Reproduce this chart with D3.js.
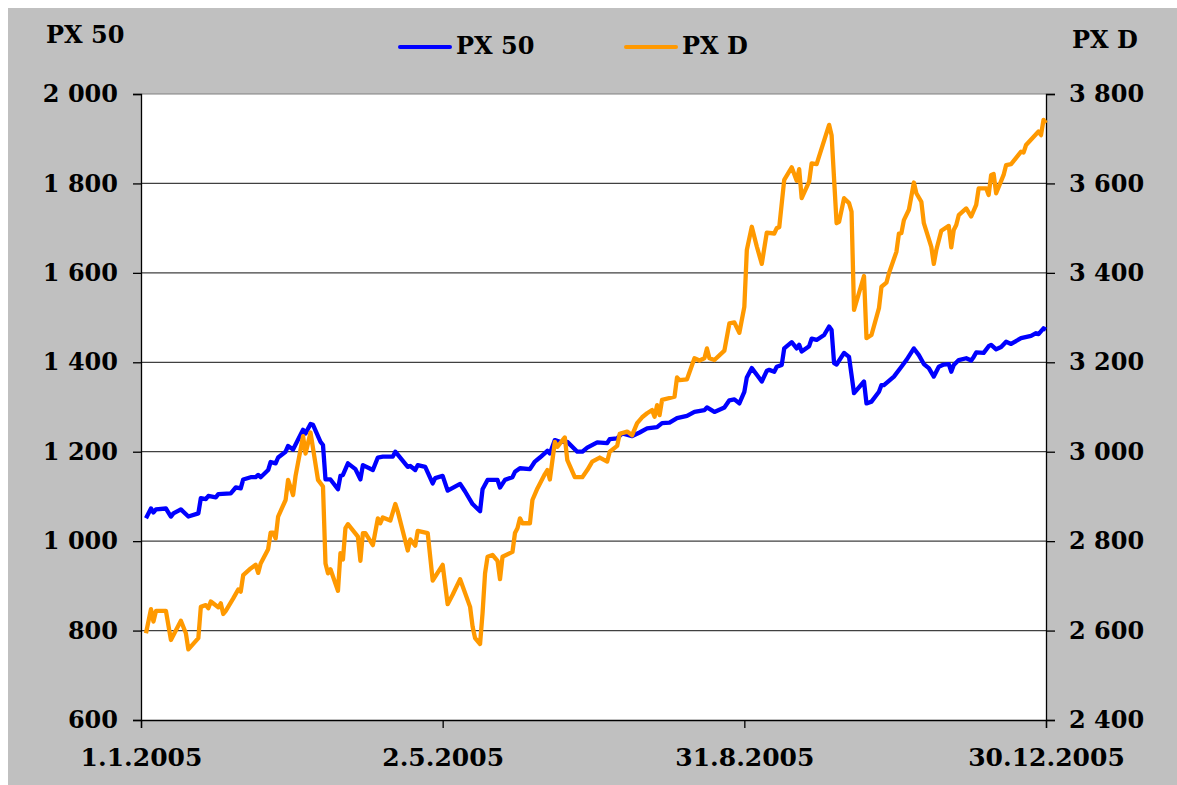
<!DOCTYPE html>
<html>
<head>
<meta charset="utf-8">
<script src="https://cdn.jsdelivr.net/npm/d3@7"></script>
<style>
  body { margin: 0; background: #fff; }
  text { font-family: "DejaVu Serif", serif; font-weight: bold; fill: #000; }
</style>
</head>
<body>
<svg id="chart"></svg>
<script>
'use strict'

// days counted from 1.1.2005
const startDate = new Date(2005, 0, 1)
const endDate = new Date(2005, 11, 30)
const tickDates = [new Date(2005, 0, 1), new Date(2005, 4, 2), new Date(2005, 7, 31), new Date(2005, 11, 30)]
const leftTicks = [600, 800, 1000, 1200, 1400, 1600, 1800, 2000]
const rightTicks = [2400, 2600, 2800, 3000, 3200, 3400, 3600, 3800]
const seriesNames = ['PX 50', 'PX D']

const px50Days = [2, 4, 5, 6, 10, 12, 13, 16, 19, 23, 24, 26, 27, 30, 31, 36, 38, 40, 41, 44, 46, 47, 48, 51, 52, 54, 55, 58, 59, 61,
  65, 66, 68, 69, 72, 73, 74, 76, 79, 80, 81, 83, 86, 88, 89, 93, 95, 97, 101, 102, 107, 108, 110, 111, 114, 117, 118, 121, 123, 128,
  130, 133, 136, 137, 139, 143, 144, 146, 149, 150, 152, 156, 158, 160, 163, 164, 166, 168, 171, 175, 177, 179, 183, 187, 188, 191, 193, 197, 200, 203,
  207, 209, 212, 215, 219, 222, 226, 227, 230, 234, 236, 238, 240, 242, 243, 245, 247, 249, 251, 252, 254, 255, 257, 258, 261, 263, 264, 265, 268, 269,
  271, 274, 276, 277, 278, 279, 282, 284, 286, 290, 291, 293, 296, 297, 298, 302, 305, 307, 310, 312, 314, 316, 318, 320, 322, 324, 325, 326, 328, 331,
  333, 334, 335, 338, 340, 341, 343, 345, 347, 349, 353, 357, 359, 360, 362, 363]
const px50Values = [1051, 1073, 1064, 1071, 1073, 1055, 1062, 1071, 1055, 1062, 1096, 1094, 1101, 1098, 1105, 1107, 1120, 1118, 1138, 1143, 1143, 1148, 1143, 1159, 1177, 1174, 1187, 1200, 1213, 1205,
  1249, 1241, 1262, 1260, 1222, 1215, 1138, 1138, 1116, 1146, 1148, 1174, 1161, 1138, 1170, 1159, 1187, 1189, 1189, 1200, 1166, 1168, 1159, 1170, 1166, 1129, 1141, 1146, 1113, 1128,
  1111, 1083, 1067, 1116, 1137, 1137, 1120, 1137, 1143, 1155, 1163, 1161, 1178, 1187, 1202, 1196, 1226, 1222, 1222, 1200, 1200, 1209, 1221, 1219, 1228, 1230, 1241, 1235, 1243, 1252,
  1255, 1264, 1265, 1275, 1280, 1289, 1293, 1299, 1289, 1299, 1315, 1317, 1308, 1334, 1366, 1387, 1372, 1357, 1381, 1383, 1379, 1390, 1394, 1431, 1445, 1431, 1439, 1424, 1436, 1453,
  1450, 1461, 1480, 1472, 1398, 1395, 1421, 1412, 1331, 1357, 1308, 1312, 1334, 1349, 1349, 1368, 1390, 1405, 1431, 1416, 1396, 1387, 1368, 1390, 1395, 1396, 1379, 1394, 1405, 1409,
  1404, 1412, 1422, 1421, 1436, 1439, 1429, 1434, 1446, 1441, 1454, 1459, 1465, 1463, 1476, 1473]

const pxdDays = [2, 4, 5, 6, 10, 12, 16, 18, 19, 23, 24, 26, 27, 28, 31, 32, 33, 34, 37, 39, 40, 41, 44, 46, 47, 48, 51, 52, 53, 54,
  55, 58, 59, 61, 62, 65, 66, 68, 71, 73, 74, 75, 76, 79, 80, 81, 82, 83, 87, 88, 89, 90, 93, 95, 96, 97, 100, 102, 103, 107,
  108, 110, 111, 115, 117, 121, 123, 125, 128, 132, 133, 134, 136, 137, 138, 139, 141, 143, 144, 145, 149, 150, 151, 152, 153, 156, 157, 159, 162, 163,
  164, 166, 167, 170, 171, 174, 177, 179, 181, 184, 187, 188, 191, 192, 195, 197, 199, 201, 203, 205, 206, 207, 208, 209, 214, 215, 216, 219, 222, 224,
  226, 227, 228, 230, 234, 236, 238, 240, 242, 243, 245, 247, 249, 251, 254, 255, 256, 258, 261, 263, 264, 265, 268, 269, 271, 276, 277, 279, 280, 282,
  284, 285, 286, 290, 291, 293, 296, 297, 299, 300, 303, 304, 305, 306, 308, 310, 311, 313, 314, 317, 318, 319, 321, 324, 325, 326, 327, 328, 331, 333,
  335, 336, 339, 340, 341, 342, 343, 346, 347, 349, 353, 354, 355, 360, 361, 362, 363]
const pxdValues = [2594, 2648, 2620, 2644, 2644, 2579, 2622, 2594, 2558, 2583, 2653, 2657, 2650, 2665, 2652, 2661, 2637, 2644, 2672, 2692, 2687, 2724, 2739, 2747, 2729, 2750, 2782, 2819, 2819, 2806,
  2855, 2892, 2937, 2903, 2946, 3035, 2996, 3043, 2937, 2922, 2750, 2728, 2737, 2689, 2773, 2759, 2829, 2838, 2810, 2756, 2818, 2818, 2791, 2851, 2840, 2853, 2846, 2883, 2866, 2779,
  2804, 2790, 2823, 2818, 2712, 2747, 2659, 2680, 2715, 2653, 2609, 2583, 2570, 2639, 2728, 2765, 2769, 2756, 2715, 2765, 2776, 2818, 2829, 2851, 2840, 2840, 2892, 2918, 2950, 2959,
  2938, 3022, 3011, 3032, 2981, 2943, 2943, 2959, 2978, 2987, 2978, 3000, 3013, 3040, 3045, 3037, 3064, 3077, 3086, 3093, 3078, 3104, 3082, 3116, 3123, 3166, 3160, 3162, 3209, 3204,
  3209, 3231, 3209, 3205, 3226, 3287, 3289, 3266, 3324, 3451, 3503, 3459, 3420, 3490, 3488, 3500, 3502, 3608, 3636, 3606, 3632, 3567, 3604, 3645, 3643, 3731, 3708, 3511, 3514, 3567,
  3556, 3537, 3317, 3393, 3254, 3261, 3321, 3369, 3378, 3399, 3447, 3488, 3489, 3518, 3541, 3602, 3578, 3559, 3511, 3458, 3420, 3451, 3494, 3505, 3457, 3496, 3507, 3529, 3544, 3526,
  3552, 3589, 3589, 3574, 3619, 3621, 3578, 3619, 3641, 3643, 3671, 3669, 3686, 3716, 3708, 3742, 3735]

const width = 1177
const height = 785
const plot = { left: 141, right: 1046, top: 94, bottom: 720 }

const svg = d3.select('#chart')
  .attr('width', width)
  .attr('height', height)

// grey panel
svg.append('rect')
  .attr('x', 8).attr('y', 8)
  .attr('width', width - 8).attr('height', height - 8)
  .attr('fill', '#c0c0c0')

svg.append('rect')
  .attr('x', plot.left).attr('y', plot.top)
  .attr('width', plot.right - plot.left).attr('height', plot.bottom - plot.top)
  .attr('fill', '#fff')

const x = d3.scaleTime().domain([startDate, endDate]).range([plot.left, plot.right])
const yLeft = d3.scaleLinear().domain([600, 2000]).range([plot.bottom, plot.top])
const yRight = d3.scaleLinear().domain([2400, 3800]).range([plot.bottom, plot.top])

const locale = d3.formatLocale({ decimal: ',', thousands: '\u00a0', grouping: [3], currency: ['', ''] })
const numFormat = locale.format(',')
const dateFormat = d3.timeFormat('%-d.%-m.%Y')

// grid lines
svg.append('g')
  .selectAll('line')
  .data(leftTicks.slice(1))
  .enter().append('line')
  .attr('x1', plot.left).attr('x2', plot.right)
  .attr('y1', d => yLeft(d)).attr('y2', d => yLeft(d))
  .attr('stroke', d => d === 2000 ? '#808080' : '#404040')
  .attr('stroke-width', 1.2)

const axisStyle = g => {
  g.select('.domain').attr('stroke', '#000').attr('stroke-width', 1.3)
  g.selectAll('.tick line').attr('stroke', '#000').attr('stroke-width', 1.3)
  g.selectAll('.tick text').attr('font-size', 24).attr('fill', '#000')
    .attr('font-family', '"DejaVu Serif", serif').attr('font-weight', 'bold')
}

svg.append('g')
  .attr('transform', `translate(${plot.left},0)`)
  .call(d3.axisLeft(yLeft).tickValues(leftTicks).tickFormat(numFormat).tickSizeOuter(0).tickSize(8).tickPadding(15))
  .call(axisStyle)

svg.append('g')
  .attr('transform', `translate(${plot.right},0)`)
  .call(d3.axisRight(yRight).tickValues(rightTicks).tickFormat(numFormat).tickSizeOuter(0).tickSize(9).tickPadding(14))
  .call(axisStyle)

svg.append('g')
  .attr('transform', `translate(0,${plot.bottom})`)
  .call(d3.axisBottom(x).tickValues(tickDates).tickFormat(dateFormat).tickSizeOuter(0).tickSize(8).tickPadding(20))
  .call(axisStyle)
  .call(g => g.selectAll('.tick text').attr('font-size', 25))

// series lines
const line = yScale => d3.line()
  .x(d => x(d3.timeDay.offset(startDate, d[0])))
  .y(d => yScale(d[1]))

svg.append('path')
  .datum(d3.zip(px50Days, px50Values))
  .attr('d', line(yLeft))
  .attr('fill', 'none')
  .attr('stroke', '#0000ff')
  .attr('stroke-width', 4.3)
  .attr('stroke-linejoin', 'round')

svg.append('path')
  .datum(d3.zip(pxdDays, pxdValues))
  .attr('d', line(yRight))
  .attr('fill', 'none')
  .attr('stroke', '#ff9900')
  .attr('stroke-width', 4.3)
  .attr('stroke-linejoin', 'round')

// axis titles
svg.append('text').attr('x', 46).attr('y', 43).attr('font-size', 24).text(seriesNames[0])
svg.append('text').attr('x', 1072).attr('y', 48).attr('font-size', 24).text(seriesNames[1])

// legend
const legendX = [400, 626]
const legendColors = ['#0000ff', '#ff9900']
seriesNames.forEach((name, i) => {
  svg.append('line')
    .attr('x1', legendX[i]).attr('x2', legendX[i] + 50)
    .attr('y1', 47).attr('y2', 47)
    .attr('stroke', legendColors[i]).attr('stroke-width', 4)
    .attr('stroke-linecap', 'round')
  svg.append('text')
    .attr('x', legendX[i] + 56).attr('y', 54)
    .attr('font-size', 24)
    .text(name)
})
</script>
</body>
</html>
